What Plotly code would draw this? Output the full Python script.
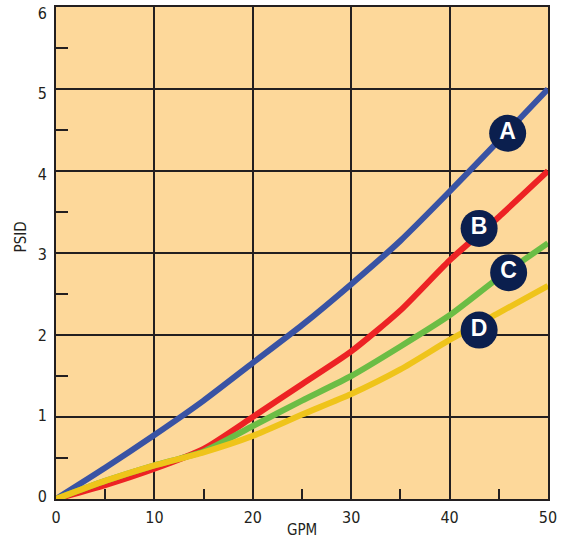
import plotly.graph_objects as go

# Pressure drop (PSID) vs flow (GPM) for four elements
gpm = [0, 5, 10, 15, 20, 25, 30, 35, 40, 45, 50]
psid_a = [0.0, 0.38, 0.78, 1.20, 1.66, 2.12, 2.62, 3.15, 3.75, 4.37, 5.0]
psid_b = [0.0, 0.17, 0.37, 0.61, 1.0, 1.40, 1.80, 2.30, 2.91, 3.44, 4.0]
psid_c = [0.0, 0.22, 0.41, 0.58, 0.89, 1.20, 1.50, 1.86, 2.24, 2.70, 3.12]
psid_d = [0.0, 0.22, 0.41, 0.57, 0.77, 1.03, 1.28, 1.58, 1.94, 2.27, 2.60]

curve_names = ['A', 'B', 'C', 'D']
label_x = [45.9, 43.0, 46.0, 43.0]
label_y = [4.46, 3.30, 2.76, 2.06]

colors = ['#3953a4', '#ed2224', '#6bbd45', '#efc41a']
font_family = "DejaVu Sans Condensed, Roboto Condensed, Liberation Sans Narrow, Roboto, sans-serif"

fig = go.Figure()

for name, ys, col in zip(curve_names, [psid_a, psid_b, psid_c, psid_d], colors):
    fig.add_trace(go.Scatter(
        x=gpm, y=ys, mode='lines', name=name,
        line=dict(color=col, width=6, shape='spline', smoothing=0.6),
        cliponaxis=False,
    ))

# circled letter labels
fig.add_trace(go.Scatter(
    x=label_x, y=label_y, mode='markers+text', text=curve_names,
    textposition='middle center',
    textfont=dict(family="Liberation Sans, Arial, sans-serif", size=23, color='white', weight='bold'),
    marker=dict(size=37, color='#0b1f4e', line=dict(width=0)),
    cliponaxis=False,
))

# empty trace so the label-only axis gets drawn
fig.add_trace(go.Scatter(x=[], y=[], yaxis='y2', hoverinfo='skip'))

fig.add_annotation(
    text='PSID', textangle=-90, xref='paper', x=0, xshift=-35, xanchor='center',
    yref='y', y=3.19, showarrow=False,
    font=dict(family=font_family, size=15, color='#231f20'),
)
fig.add_annotation(
    text='GPM', xref='x', x=25, yref='paper', y=0, yshift=-31, yanchor='middle',
    showarrow=False, font=dict(family=font_family, size=15, color='#231f20'),
)

fig.update_layout(
    width=561, height=541,
    margin=dict(l=56, r=13, t=7, b=42),
    plot_bgcolor='#fdd89a',
    paper_bgcolor='white',
    showlegend=False,
    font=dict(family=font_family, size=16, color='#231f20'),
    # label-only axis: the printed numbers sit on a slightly tighter pitch than the grid
    yaxis2=dict(
        overlaying='y', side='left', range=[-0.037, 6.075], dtick=1,
        showgrid=False, zeroline=False, showline=False, ticks='',
        ticklabelstandoff=8, automargin=False, ticklabeloverflow='allow',
    ),
)

fig.update_xaxes(
    range=[0, 50], dtick=10, showgrid=True, gridcolor='#231f20', gridwidth=1.5,
    showline=True, linecolor='#231f20', linewidth=2, mirror=True,
    zeroline=False, ticks='', ticklabelstandoff=3, automargin=False,
    ticklabeloverflow='allow',
    minor=dict(ticks='inside', dtick=5, ticklen=10, tickcolor='#231f20', tickwidth=1.5, showgrid=False),
)
fig.update_layout(yaxis=dict(
    range=[0, 6], dtick=1, showgrid=True, gridcolor='#231f20', gridwidth=1.5,
    showline=True, linecolor='#231f20', linewidth=2, mirror=True,
    zeroline=False, ticks='', showticklabels=False, automargin=False,
    minor=dict(ticks='inside', dtick=0.5, ticklen=12, tickcolor='#231f20', tickwidth=1.5, showgrid=False),
))

# drop the default page margin so the figure sits at the window's corner
fig.write_html("out.html", config={'displayModeBar': False},
               post_script="document.body.style.margin='0';")
